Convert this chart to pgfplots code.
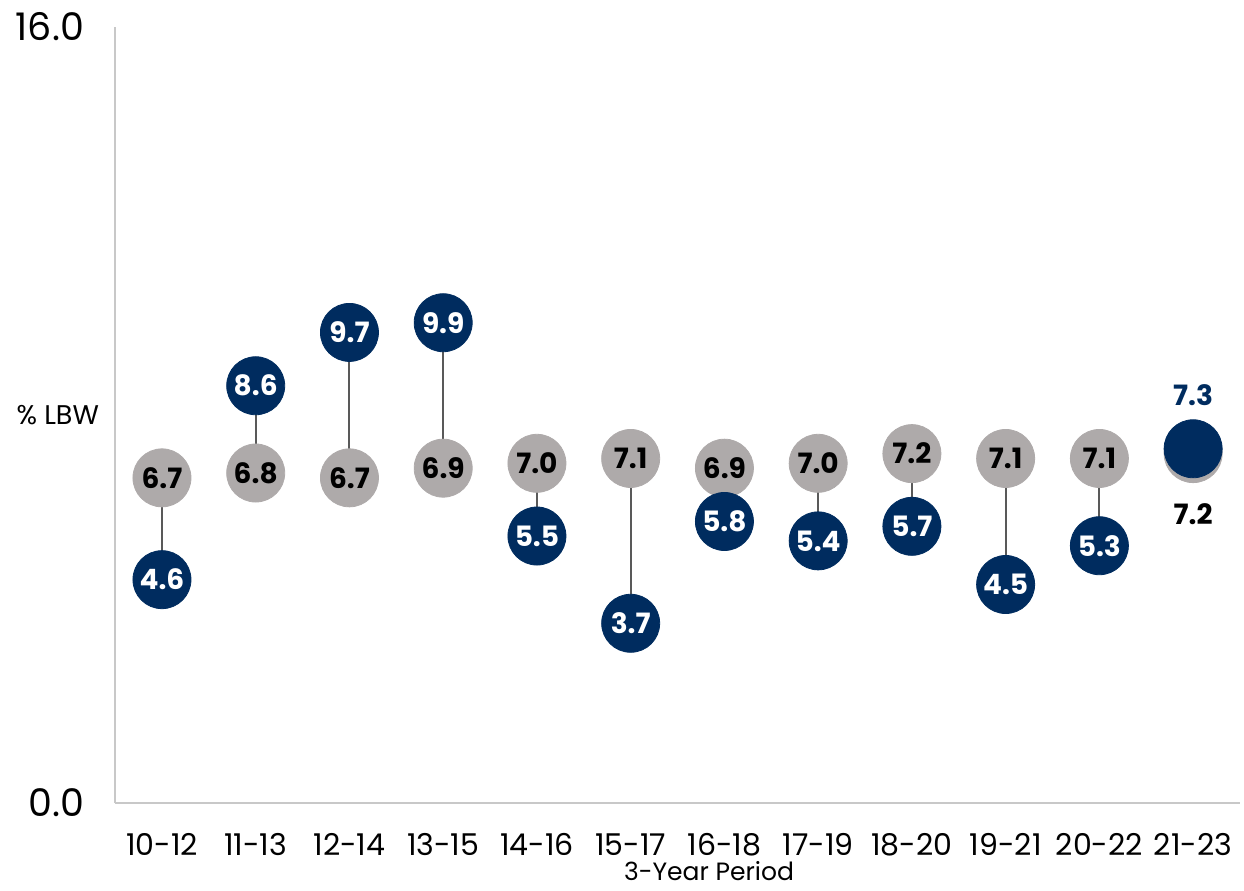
\documentclass[border=0pt]{standalone}
\usepackage{fontspec}
\setmainfont{Poppins}
\usepackage{pgfplots}
\pgfplotsset{compat=1.18}
\definecolor{navy}{HTML}{002C5F}
\definecolor{cgray}{HTML}{AEAAAA}
\definecolor{axgray}{HTML}{C8C8C8}
\definecolor{conn}{HTML}{595959}
\begin{document}
\begin{tikzpicture}
\begin{axis}[
  name=ax,
  scale only axis,
  width=562pt, height=387.5pt,
  xmin=-0.5, xmax=11.5,
  ymin=0, ymax=16,
  axis x line*=bottom, axis y line*=left,
  axis line style={axgray, line width=1pt},
  ytick={0,16},
  yticklabel style={font=\fontsize{19}{19}\selectfont, xshift=-12pt},
  /pgf/number format/.cd, fixed, fixed zerofill, precision=1, assume math mode=true,
  /pgfplots/.cd,
  xtick={0,...,11},
  xticklabels={10-12,11-13,12-14,13-15,14-16,15-17,16-18,17-19,18-20,19-21,20-22,21-23},
  xticklabel style={font=\fontsize{15}{15}\selectfont, yshift=-12pt},
  major tick length=0pt,
  xlabel={3-Year Period},
  xlabel style={font=\fontsize{12.5}{12.5}\selectfont, at={(axis description cs:0.528,0)}, anchor=north, yshift=-26pt},
  ylabel={\% LBW},
  ylabel style={font=\fontsize{13.5}{13.5}\selectfont, rotate=-90, at={(axis description cs:-0.051,0.5)}, anchor=center},
  clip=false,
]
% connectors
\addplot[conn, line width=1pt] coordinates {(0,6.7) (0,4.6)};
\addplot[conn, line width=1pt] coordinates {(1,6.8) (1,8.6)};
\addplot[conn, line width=1pt] coordinates {(2,6.7) (2,9.7)};
\addplot[conn, line width=1pt] coordinates {(3,6.9) (3,9.9)};
\addplot[conn, line width=1pt] coordinates {(4,7.0) (4,5.5)};
\addplot[conn, line width=1pt] coordinates {(5,7.1) (5,3.7)};
\addplot[conn, line width=1pt] coordinates {(6,6.9) (6,5.8)};
\addplot[conn, line width=1pt] coordinates {(7,7.0) (7,5.4)};
\addplot[conn, line width=1pt] coordinates {(8,7.2) (8,5.7)};
\addplot[conn, line width=1pt] coordinates {(9,7.1) (9,4.5)};
\addplot[conn, line width=1pt] coordinates {(10,7.1) (10,5.3)};
% gray series
\addplot[cgray, only marks, mark=*, mark size=14.5pt, mark options={fill=cgray, draw=cgray},
  nodes near coords,
  every node near coord/.append style={font=\bfseries\fontsize{14}{14}\selectfont, text=black, anchor=center}]
  coordinates {(0,6.7) (1,6.8) (2,6.7) (3,6.9) (4,7.0) (5,7.1) (6,6.9) (7,7.0) (8,7.2) (9,7.1) (10,7.1)};
\addplot[cgray, only marks, mark=*, mark size=14.5pt, mark options={fill=cgray, draw=cgray},
  nodes near coords,
  every node near coord/.append style={font=\bfseries\fontsize{14}{14}\selectfont, text=black, anchor=center, yshift=-30pt}]
  coordinates {(11,7.2)};
% navy series
\addplot[navy, only marks, mark=*, mark size=14.5pt, mark options={fill=navy, draw=navy},
  nodes near coords,
  every node near coord/.append style={font=\bfseries\fontsize{14}{14}\selectfont, text=white, anchor=center}]
  coordinates {(0,4.6) (1,8.6) (2,9.7) (3,9.9) (4,5.5) (5,3.7) (6,5.8) (7,5.4) (8,5.7) (9,4.5) (10,5.3)};
\addplot[navy, only marks, mark=*, mark size=14.5pt, mark options={fill=navy, draw=navy},
  nodes near coords,
  every node near coord/.append style={font=\bfseries\fontsize{14}{14}\selectfont, text=navy, anchor=center, yshift=27pt}]
  coordinates {(11,7.3)};
\end{axis}
\pgfresetboundingbox
\path ([shift={(-57.5pt,-44pt)}]ax.south west) rectangle ([shift={(2pt,13.5pt)}]ax.north east);
\end{tikzpicture}
\end{document}
